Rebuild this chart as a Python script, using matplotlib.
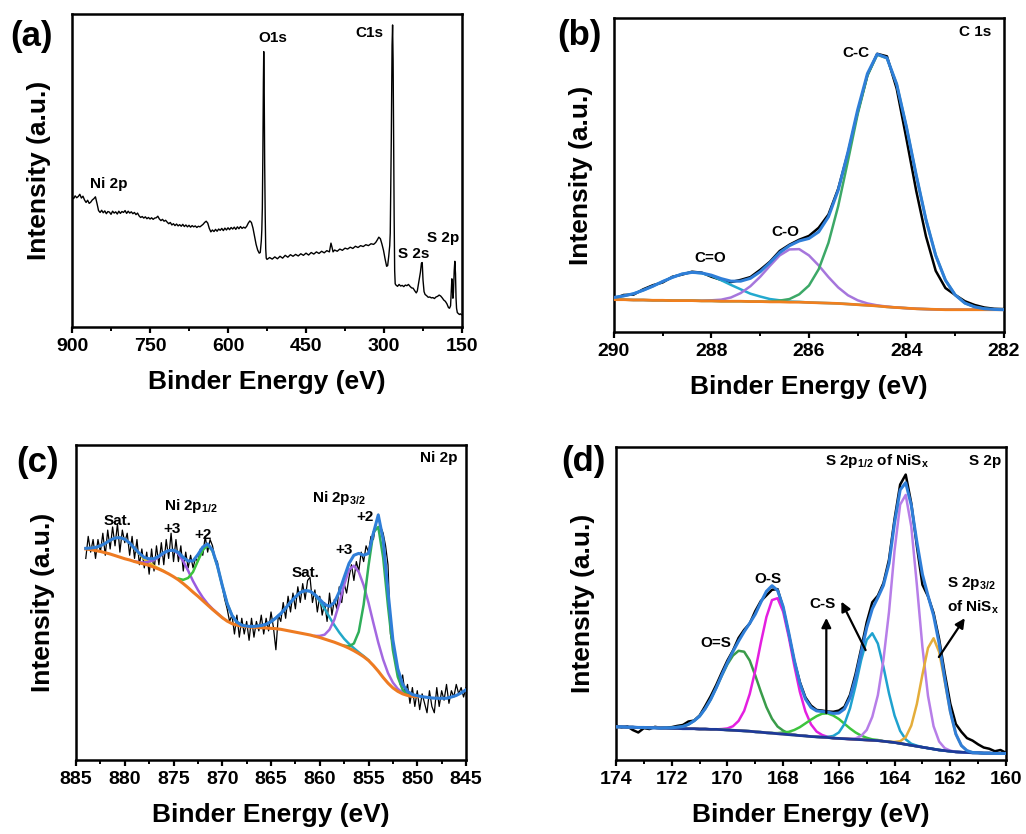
import numpy as np
import matplotlib
matplotlib.use('Agg')
import matplotlib.pyplot as plt
from matplotlib.ticker import MultipleLocator

plt.rcParams['font.family'] = ['Liberation Sans', 'DejaVu Sans']
plt.rcParams['font.weight'] = 'bold'
plt.rcParams['axes.labelweight'] = 'bold'
plt.rcParams['mathtext.fontset'] = 'custom'
plt.rcParams['mathtext.rm'] = 'Liberation Sans:bold'
plt.rcParams['mathtext.it'] = 'Liberation Sans:bold'
plt.rcParams['mathtext.bf'] = 'Liberation Sans:bold'
plt.rcParams['mathtext.default'] = 'rm'

# ---------------- (a) survey spectrum ----------------
survey_be = [900, 897, 894, 891, 888, 885, 882, 879, 876, 873,
             870, 867, 864, 861, 858, 855, 852, 849, 846, 843,
             840, 837, 834, 831, 828, 825, 822, 819, 816, 813,
             810, 807, 804, 801, 798, 795, 792, 789, 786, 783,
             780, 777, 774, 771, 768, 765, 762, 759, 756, 753,
             750, 747, 744, 741, 738, 735, 732, 729, 726, 723,
             720, 717, 714, 711, 708, 705, 702, 699, 696, 693,
             690, 687, 684, 681, 678, 675, 672, 669, 666, 663,
             660, 657, 654, 651, 648, 645, 642, 639, 636, 633,
             630, 627, 624, 621, 618, 615, 612, 609, 606, 603,
             600, 597, 594, 591, 588, 585, 582, 579, 576, 573,
             570, 567, 564, 561, 558, 555, 552, 549, 546, 543,
             540, 538, 536, 535, 534, 533, 532, 531.3, 530.5, 529.5,
             528.5, 527.5, 526.5, 525, 520, 515, 510, 505, 500, 495,
             490, 485, 480, 475, 470, 465, 460, 455, 450, 445,
             440, 435, 430, 425, 420, 415, 410, 405, 402, 400,
             398, 395, 390, 385, 380, 375, 370, 365, 360, 355,
             350, 345, 340, 335, 330, 325, 320, 316, 313, 310,
             307, 304, 301, 298, 295, 293, 291, 289, 288, 286,
             284.5, 283.5, 282.5, 281.5, 280.5, 279.5, 278.5, 277, 274, 271,
             268, 265, 262, 259, 256, 253, 250, 247, 244, 241,
             238, 236, 234, 232, 230, 228, 226.5, 225, 223, 221,
             218, 215, 212, 209, 206, 203, 200, 197, 194, 191,
             188, 185, 182, 179, 176, 174, 172, 170.5, 169.5, 168.5,
             167.5, 166.5, 165, 163.8, 162.5, 161.5, 160.5, 159, 157, 155,
             153, 151, 150]
survey_int = [41.5, 41.0, 41.9, 41.3, 41.7, 42.4, 41.2, 41.8, 40.6, 39.8,
              40.5, 39.5, 39.9, 40.6, 41.0, 41.6, 39.5, 37.2, 36.6, 37.3,
              36.5, 37.1, 36.2, 36.9, 36.7, 36.0, 37.0, 36.4, 36.8, 36.1,
              37.0, 36.3, 36.9, 36.6, 37.2, 36.3, 37.0, 36.4, 36.8, 36.2,
              36.6, 35.9, 36.4, 35.5, 35.0, 35.3, 34.8, 35.2, 34.6, 35.0,
              34.5, 34.9, 34.4, 34.8, 34.9, 35.4, 34.5, 34.0, 34.4, 33.8,
              34.1, 33.5, 33.0, 33.4, 32.6, 33.0, 32.4, 32.9, 32.3, 32.7,
              32.2, 32.8, 32.1, 32.6, 32.0, 32.5, 31.9, 32.4, 32.0, 32.3,
              31.8, 32.2, 32.0, 32.4, 32.8, 33.4, 33.8, 33.2, 31.5, 30.4,
              31.0, 30.5, 31.2, 30.6, 31.3, 30.9, 31.5, 30.8, 31.6, 31.0,
              31.7, 31.1, 31.8, 31.3, 31.9, 31.2, 32.0, 31.4, 32.1, 31.5,
              31.9, 31.6, 32.2, 33.2, 33.9, 33.4, 31.6, 29.0, 26.4, 24.6,
              23.6, 23.8, 27.5, 31.0, 38.0, 55.0, 78.0, 88.0, 78.0, 52.0,
              36.0, 25.0, 22.0, 21.6, 22.2, 21.7, 22.4, 21.8, 22.6, 22.0,
              22.9, 22.3, 23.1, 22.6, 23.2, 22.7, 23.4, 22.9, 23.6, 23.0,
              23.8, 23.3, 24.0, 23.5, 24.2, 23.7, 24.4, 24.0, 26.8, 25.5,
              24.0, 24.6, 24.2, 24.9, 24.5, 25.2, 24.9, 25.5, 25.1, 25.8,
              25.4, 26.0, 25.7, 26.3, 26.0, 26.6, 26.4, 27.0, 27.8, 28.7,
              28.2, 26.5, 24.5, 21.8, 19.4, 19.6, 22.5, 26.0, 30.0, 60.0,
              90.0, 96.5, 85.0, 60.0, 35.0, 18.0, 13.8, 13.4, 13.0, 13.6,
              13.1, 13.3, 12.9, 13.4, 13.2, 13.6, 13.0, 12.5, 12.4, 11.6,
              10.9, 11.5, 13.5, 15.4, 17.5, 20.4, 20.6, 15.0, 11.3, 10.4,
              10.0, 9.5, 9.6, 9.3, 9.4, 9.1, 9.6, 9.8, 10.2, 9.9,
              9.3, 8.6, 8.2, 7.4, 6.2, 6.0, 6.8, 12.0, 15.4, 13.0,
              9.2, 11.0, 18.0, 21.0, 17.0, 9.3, 6.0, 4.6, 4.3, 4.0,
              4.2, 3.9, 3.9]
survey_labels = ['O1s', 'C1s', 'Ni 2p', 'S 2s', 'S 2p']
survey_label_pos = [(513.5, 91.2), (328.8, 92.7), (828.8, 44.3), (243.6, 21.9), (185.9, 27.3)]

# ---------------- (b) C 1s ----------------
b_start, b_step = 290.0, 0.2
b_raw = [10.6, 11.8, 11.9, 13.6, 14.9, 15.8, 17.6, 18.3, 19.2, 18.9,
         17.6, 16.6, 15.9, 16.6, 17.5, 19.8, 22.4, 25.8, 27.8, 29.4,
         30.6, 33.2, 37.4, 45.6, 57.0, 70.0, 81.8, 88.6, 87.8, 77.5,
         61.5, 45.0, 30.5, 19.5, 14.0, 11.8, 9.8, 8.6, 7.8, 7.4,
         7.3]
b_bg = [10.3, 10.3, 10.2, 10.2, 10.1, 10.1, 10.0, 10.0, 10.0, 9.9,
        9.9, 9.8, 9.8, 9.8, 9.7, 9.7, 9.6, 9.6, 9.5, 9.5,
        9.4, 9.3, 9.2, 9.1, 8.9, 8.7, 8.5, 8.3, 8.0, 7.8,
        7.6, 7.4, 7.3, 7.2, 7.1, 7.1, 7.1, 7.1, 7.1, 7.1,
        7.1]
b_c_dbl_o = [0.7, 1.2, 2.0, 3.1, 4.5, 6.0, 7.4, 8.5, 9.0, 8.8,
             8.0, 6.7, 5.2, 3.8, 2.5, 1.6, 0.9, 0.5, 0.2, 0.1,
             0, 0, 0, 0, 0, 0, 0, 0, 0, 0,
             0, 0, 0, 0, 0, 0, 0, 0, 0, 0, 0]
b_c_o = [0, 0, 0, 0, 0, 0, 0, 0, 0, 0.1,
         0.2, 0.5, 1.2, 2.6, 4.9, 7.9, 11.5, 14.8, 16.8, 16.9,
         15.0, 11.9, 8.3, 5.1, 2.8, 1.4, 0.6, 0.2, 0.1, 0,
         0, 0, 0, 0, 0, 0, 0, 0, 0, 0, 0]
b_c_c = [0, 0, 0, 0, 0, 0, 0, 0, 0, 0,
         0, 0, 0, 0, 0, 0, 0.1, 0.4, 1.0, 2.5,
         5.4, 10.7, 19.2, 31.0, 45.6, 60.7, 73.2, 80.0, 79.2, 71.1,
         57.7, 42.6, 28.5, 17.2, 9.4, 4.7, 2.1, 0.9, 0.3, 0.1,
         0]
b_labels = ['C-C', 'C-O', 'C=O']
b_label_pos = [(285.03, 87.7), (286.48, 30.6), (288.02, 22.4)]

# ---------------- (c) Ni 2p ----------------
c_raw_start, c_raw_step = 884.0, 0.25
c_raw = [64, 71, 66, 70,  64, 70, 66, 72,  65, 73, 67, 74,  68, 75, 66, 73,
         69, 72, 65, 71,  64, 70, 62, 67,  61, 66, 59, 67,  60, 68, 62, 69,
         62, 70, 64, 72,  63, 70, 63, 68,  60, 66, 61, 65,  61, 64, 63, 67,
         65, 71, 66, 70,  68, 64, 63, 58,  55, 51, 48, 44,  46, 40, 46, 39,
         45, 40, 44, 38,  45, 39, 44, 41,  46, 40, 45, 41,  47, 42, 35, 46,
         44, 50, 45, 52,  47, 53, 48, 55,  50, 56, 51, 57,  58, 50, 54, 47,
         52, 46, 50, 44,  53, 46, 51, 48,  55, 50, 56, 53,  58, 62, 57, 63,
         60, 66, 63, 68,  66, 71, 70, 75,  78, 74, 72, 68,  62, 40, 36, 31,
         28, 24, 27, 21,  24, 18, 23, 17,  22, 16, 21, 18,  15, 22, 17, 15,
         23, 17, 22, 19,  24, 18, 22, 20,  24, 21, 23, 20,  23]
c_step = 0.5
c_env = [67.2, 67.3, 67.5, 68.0, 68.8, 69.8, 70.5, 70.6, 70.1, 68.9,
         67.2, 65.6, 64.3, 63.9, 63.9, 64.7, 65.8, 66.5, 66.6, 65.9,
         64.3, 63.2, 63.2, 65.2, 67.6, 68.6, 66.6, 61.7, 55.4, 49.7,
         45.9, 43.8, 42.8, 42.5, 42.4, 42.5, 42.7, 43.1, 43.9, 45.1,
         46.5, 48.2, 50.1, 51.8, 53.2, 53.8, 53.6, 52.5, 51.0, 49.4,
         48.8, 50.0, 53.4, 58.0, 62.4, 65.0, 65.6, 65.0, 65.6, 72.0,
         77.8, 70.0, 53.5, 38.1, 29.0, 24.0, 21.8, 20.8, 20.4, 20.1,
         19.9, 19.7, 19.6, 19.6, 19.6, 20.0, 20.5, 21.3, 22.3]
c_bg = [67.0, 66.8, 66.5, 66.2, 65.8, 65.4, 64.9, 64.4, 63.9, 63.5,
        63.0, 62.6, 62.2, 61.8, 61.2, 60.6, 59.9, 59.1, 58.2, 57.2,
        56.0, 54.7, 53.3, 52.0, 50.6, 49.2, 47.8, 46.5, 45.2, 44.1,
        43.3, 42.8, 42.5, 42.3, 42.2, 42.1, 42.0, 41.9, 41.8, 41.7,
        41.5, 41.2, 40.9, 40.6, 40.3, 40.0, 39.7, 39.3, 38.9, 38.4,
        37.9, 37.4, 36.8, 36.2, 35.5, 34.7, 33.8, 32.8, 31.6, 30.0,
        28.2, 26.2, 24.4, 22.9, 21.8, 21.0, 20.5, 20.2, 20.1]
# fitted components (displayed on top of background), each: start energy, values
c_sat1_start = 884.0
c_sat1 = [67.2, 67.3, 67.5, 68.0, 68.8, 69.8, 70.5, 70.6, 70.1, 68.9,
          67.1, 65.4, 63.8, 62.7, 61.6, 60.8, 60.0]
c_ni3_a_start = 879.0
c_ni3_a = [63.1, 62.8, 62.7, 63.0, 63.5, 64.5, 65.7, 66.5, 66.6, 65.5,
           63.1, 60.1, 56.8, 54.0, 51.6, 49.6, 48.0, 46.6, 45.2]
c_ni2_a_start = 874.5
c_ni2_a = [57.6, 57.2, 57.8, 59.7, 63.2, 66.6, 68.2, 66.4, 61.6, 55.4,
           49.7, 45.9, 43.8, 42.8, 42.4]
c_sat2_start = 868.0
c_sat2 = [42.5, 42.4, 42.4, 42.5, 42.7, 43.1, 43.9, 45.1, 46.5, 48.2,
          50.1, 51.8, 53.2, 53.8, 53.6, 52.4, 50.5, 48.0, 45.3, 42.8,
          40.5, 38.5, 36.9, 35.5, 34.2, 33.0, 31.7]
c_ni3_b_start = 860.5
c_ni3_b = [39.4, 39.4, 39.8, 41.4, 44.6, 49.7, 55.6, 60.4, 61.7, 59.7,
           55.5, 49.9, 43.5, 37.3, 31.9, 27.6, 24.6, 22.6, 21.4, 20.7,
           20.3]
c_ni2_b_start = 857.5
c_ni2_b = [36.3, 36.1, 37.0, 40.7, 49.3, 61.7, 72.3, 74.0, 64.3, 48.8,
           34.9, 26.4, 22.3, 20.8, 20.3]
c_labels = ['Sat.', 'Ni 2p$_{1/2}$', '+3', '+2', 'Sat.', '+3', 'Ni 2p$_{3/2}$', '+2']
c_label_pos = [(880.7, 74.6), (873.2, 79.4), (875.2, 72.0), (872.0, 70.1),
               (861.5, 58.0), (857.5, 65.4), (858.0, 82.0), (855.4, 76.0)]

# ---------------- (d) S 2p ----------------
d_start, d_step = 174.0, 0.2
d_raw = [11.0, 10.4, 10.8, 9.6, 8.8, 10.2, 9.9, 10.6, 10.3, 10.4,
         10.5, 10.9, 11.2, 12.3, 12.6, 14.2, 17.2, 20.4, 24.0, 28.0,
         31.8, 35.0, 39.0, 41.6, 43.6, 47.6, 50.8, 52.6, 54.4, 54.6,
         48.6, 40.3, 31.6, 24.9, 20.0, 17.4, 16.0, 15.8, 15.5, 15.4,
         15.8, 17.0, 20.8, 27.5, 35.5, 44.0, 50.4, 52.5, 56.5, 64.0,
         77.0, 88.0, 91.2, 82.0, 68.4, 56.0, 52.3, 47.0, 38.6, 27.8,
         18.0, 11.5, 9.0, 7.0, 6.2, 5.0, 4.0, 3.6, 2.8, 3.2,
         2.3]
d_bg = [10.6, 10.6, 10.5, 10.5, 10.4, 10.4, 10.3, 10.3, 10.2, 10.2,
        10.1, 10.1, 10.0, 10.0, 10.0, 9.9, 9.9, 9.8, 9.8, 9.7,
        9.6, 9.5, 9.4, 9.3, 9.2, 9.0, 8.9, 8.7, 8.6, 8.4,
        8.3, 8.1, 8.0, 7.8, 7.7, 7.5, 7.4, 7.3, 7.2, 7.0,
        6.9, 6.8, 6.7, 6.6, 6.5, 6.4, 6.3, 6.2, 6.0, 5.8,
        5.6, 5.3, 5.0, 4.7, 4.4, 4.1, 3.8, 3.5, 3.2, 3.0,
        2.8, 2.6, 2.5, 2.4, 2.3, 2.3, 2.2, 2.2, 2.1, 2.1,
        2.1]
d_o_dbl_s = [0.0] * 9 + [0.1, 0.2, 0.4, 0.7, 1.4, 2.5, 4.1, 6.5, 9.6, 13.3,
                         17.3, 21.0, 23.9, 25.5, 25.3, 22.6, 18.0, 12.9, 8.2, 4.6,
                         2.3, 1.1, 0.4, 0.1] + [0.0] * 38
d_o_s = [0.0] * 19 + [0.2, 0.5, 1.3, 3.1, 6.4, 11.9, 19.6, 28.6, 37.0, 42.5,
                      43.3, 39.1, 31.3, 22.2, 14.0, 7.8, 3.9, 1.7, 0.7, 0.2] + [0.0] * 32
d_c_s_1 = [0.0] * 29 + [0.2, 0.5, 0.9, 1.6, 2.7, 4.0, 5.4, 6.6, 7.5, 7.7,
                        7.2, 6.2, 4.8, 3.4, 2.2, 1.3, 0.7, 0.3, 0.2] + [0.0] * 23
d_c_s_2 = [0.0] * 38 + [0.2, 0.7, 1.9, 4.7, 9.8, 17.1, 25.4, 32.0, 34.2, 31.0,
                        23.8, 15.5, 8.6, 4.0, 1.6, 0.5, 0.2] + [0.0] * 16
d_s12 = [0.0] * 43 + [0.3, 1.2, 3.2, 7.5, 14.5, 26.0, 41.5, 61.4, 76.3, 79.7,
                      69.9, 51.6, 32.0, 16.7, 7.3, 2.7, 0.8, 0.2] + [0.0] * 10
d_s32 = [0.0] * 50 + [0.2, 0.7, 2.3, 6.3, 13.5, 23.2, 32.0, 35.4, 31.3, 22.2,
                      12.6, 5.7, 2.1, 0.6, 0.1] + [0.0] * 6
d_labels = ['S 2p$_{1/2}$ of NiS$_{x}$', 'O-S', 'O=S', 'C-S', 'S 2p$_{3/2}$', 'of NiS$_{x}$']
d_label_pos = [(164.62, 94.2), (168.54, 56.4), (170.43, 36.2), (166.6, 48.5),
               (161.25, 55.4), (161.17, 47.4)]
d_arrows = [((166.45, 15.0), (166.45, 45.4)),
            ((165.04, 35.1), (165.91, 50.6)),
            ((162.41, 32.9), (161.48, 45.3))]


def grid(start, step, vals):
    return start - step * np.arange(len(vals))


BLUE = '#2f7ed8'
fig = plt.figure(figsize=(10.26, 8.34), dpi=100)
ax_a = fig.add_axes([0.0702, 0.6079, 0.3801, 0.3753])
ax_b = fig.add_axes([0.5984, 0.6019, 0.3801, 0.3765])
ax_c = fig.add_axes([0.0741, 0.0887, 0.3801, 0.3777])
ax_d = fig.add_axes([0.6004, 0.0887, 0.3801, 0.3753])


def style(ax, xlim, major, minor):
    ax.set_xlim(*xlim)
    ax.set_ylim(0, 100)
    ax.xaxis.set_major_locator(MultipleLocator(major))
    ax.xaxis.set_minor_locator(MultipleLocator(minor))
    ax.tick_params(axis='x', which='major', direction='out', length=4.5, width=1.6,
                   labelsize=14, pad=3.5)
    ax.tick_params(axis='x', which='minor', direction='out', length=3, width=1.4)
    ax.tick_params(axis='y', which='both', left=False, labelleft=False)
    for lab in ax.get_xticklabels():
        lab.set_fontweight('bold')
    for s in ax.spines.values():
        s.set_linewidth(1.8)
    ax.set_xlabel('Binder Energy (eV)', fontsize=19, fontweight='bold', labelpad=11)
    ax.set_ylabel('Intensity (a.u.)', fontsize=19, fontweight='bold', labelpad=15)


# (a)
ax_a.plot(survey_be, survey_int, color='black', lw=1.0)
for t, (x, y) in zip(survey_labels, survey_label_pos):
    ax_a.text(x, y, t, ha='center', va='baseline', fontsize=11, fontweight='bold')
style(ax_a, (900, 150), 150, 75)

# (b)
xb = grid(b_start, b_step, b_bg)
bgb = np.array(b_bg)
ax_b.plot(grid(b_start, b_step, b_raw), b_raw, color='black', lw=1.8, zorder=2)
ax_b.plot(xb, bgb + np.array(b_c_dbl_o), color='#23a9cf', lw=1.8, zorder=3)
ax_b.plot(xb, bgb + np.array(b_c_o), color='#a676dc', lw=1.8, zorder=3)
ax_b.plot(xb, bgb + np.array(b_c_c), color='#3ca867', lw=1.8, zorder=3)
ax_b.plot(xb, bgb, color='#f07f1e', lw=2.0, zorder=4)
ax_b.plot(xb, bgb + np.array(b_c_dbl_o) + np.array(b_c_o) + np.array(b_c_c),
          color=BLUE, lw=2.2, zorder=5)
for t, (x, y) in zip(b_labels, b_label_pos):
    ax_b.text(x, y, t, ha='center', va='baseline', fontsize=11, fontweight='bold')
ax_b.text(0.967, 0.943, 'C 1s', transform=ax_b.transAxes, ha='right', va='baseline',
          fontsize=11, fontweight='bold')
style(ax_b, (290, 282), 2, 1)

# (c)
ax_c.plot(grid(c_raw_start, c_raw_step, c_raw), c_raw, color='black', lw=0.9, zorder=2)
ax_c.plot(grid(c_sat1_start, c_step, c_sat1), c_sat1, color='#e3c42b', lw=1.8, zorder=3)
ax_c.plot(grid(c_ni3_a_start, c_step, c_ni3_a), c_ni3_a, color='#9a5ae0', lw=1.8, zorder=3)
ax_c.plot(grid(c_ni2_a_start, c_step, c_ni2_a), c_ni2_a, color='#3cc43c', lw=1.8, zorder=3)
ax_c.plot(grid(c_sat2_start, c_step, c_sat2), c_sat2, color='#22a8c8', lw=1.8, zorder=3)
ax_c.plot(grid(c_ni3_b_start, c_step, c_ni3_b), c_ni3_b, color='#a368e0', lw=1.8, zorder=3)
ax_c.plot(grid(c_ni2_b_start, c_step, c_ni2_b), c_ni2_b, color='#2fae5a', lw=1.8, zorder=3)
ax_c.plot(grid(884.0, c_step, c_bg), c_bg, color='#ee7b22', lw=2.2, zorder=4)
ax_c.plot(grid(884.0, c_step, c_env), c_env, color=BLUE, lw=2.2, zorder=5)
for t, (x, y) in zip(c_labels, c_label_pos):
    ax_c.text(x, y, t, ha='center', va='baseline', fontsize=11, fontweight='bold', zorder=6)
ax_c.text(0.979, 0.947, 'Ni 2p', transform=ax_c.transAxes, ha='right', va='baseline',
          fontsize=11, fontweight='bold')
style(ax_c, (885, 845), 5, 2.5)

# (d)
xd = grid(d_start, d_step, d_bg)
bgd = np.array(d_bg)
comps = [(d_o_dbl_s, '#3a9c4a'), (d_o_s, '#e41fe0'), (d_c_s_1, '#3dc43d'),
         (d_c_s_2, '#1fa2cf'), (d_s12, '#b77ee8'), (d_s32, '#e4ad3a')]
ax_d.plot(grid(d_start, d_step, d_raw), d_raw, color='black', lw=1.8, zorder=2)
env = bgd.copy()
for vals, col in comps:
    ax_d.plot(xd, bgd + np.array(vals), color=col, lw=1.8, zorder=3)
    env = env + np.array(vals)
ax_d.plot(xd, bgd, color='#1d3a9a', lw=2.0, zorder=4)
ax_d.plot(xd, env, color=BLUE, lw=2.2, zorder=5)
for t, (x, y) in zip(d_labels, d_label_pos):
    ax_d.text(x, y, t, ha='center', va='baseline', fontsize=11, fontweight='bold', zorder=6)
ax_d.text(0.988, 0.942, 'S 2p', transform=ax_d.transAxes, ha='right', va='baseline',
          fontsize=11, fontweight='bold')
for tail, head in d_arrows:
    ax_d.annotate('', xy=head, xytext=tail,
                  arrowprops=dict(arrowstyle='-|>', color='black', lw=1.6,
                                  mutation_scale=14, shrinkA=0, shrinkB=0), zorder=6)
style(ax_d, (174, 160), 2, 1)

# panel letters
for t, (x, y) in zip(['(a)', '(b)', '(c)', '(d)'],
                     [(0.0307, 0.9562), (0.5648, 0.958), (0.0365, 0.446), (0.5682, 0.4466)]):
    fig.text(x, y, t, ha='center', va='center', fontsize=25, fontweight='bold')

fig.savefig('out.png', dpi=100)
